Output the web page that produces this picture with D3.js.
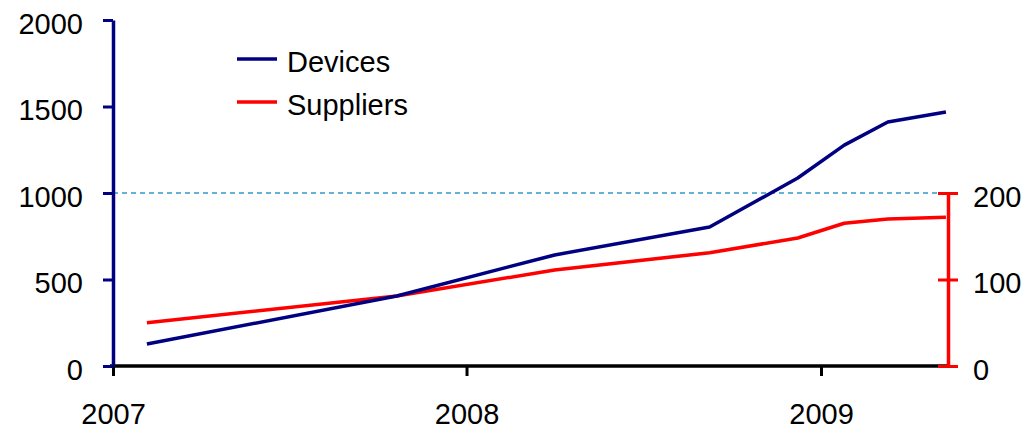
<!DOCTYPE html>
<html>
<head>
<meta charset="utf-8">
<script src="https://cdn.jsdelivr.net/npm/d3@7"></script>
<style>
  html, body { margin: 0; padding: 0; background: #fff; }
  svg { display: block; }
  text { font-family: "Liberation Sans", Arial, sans-serif; font-size: 29px; fill: #000; }
</style>
</head>
<body>
<svg id="chart" width="1035" height="429"></svg>
<script>
// ---- data ----
const dates = ["2007-02-05", "2007-10-21", "2008-04-01", "2008-09-08", "2008-12-08", "2009-01-25", "2009-03-11", "2009-05-10"];
const devices = [127, 405, 642, 803, 1087, 1277, 1410, 1468];
const suppliers = [50, 81, 111, 131, 148, 165, 170, 172];
const yearTicks = ["2007-01-01", "2008-01-01", "2009-01-01"];
const leftTicks = [0, 500, 1000, 1500, 2000];
const rightTicks = [0, 100, 200];
const refValue = 1000;
const seriesNames = ["Devices", "Suppliers"];

// ---- setup ----
const parse = d3.timeParse("%Y-%m-%d");
const svg = d3.select("#chart");
const x0 = 113, x1 = 948, yBottom = 366, yTop = 20;

const x = d3.scaleTime()
  .domain([parse("2007-01-01"), parse("2009-01-01")])
  .range([x0, 821]);
const yL = d3.scaleLinear().domain([0, 2000]).range([yBottom, yTop]);
const yR = d3.scaleLinear().domain([0, 200]).range([yBottom, yL(1000)]);

const navy = "#000080", red = "#FF0000";

// reference dashed line
svg.append("line")
  .attr("x1", x0).attr("x2", x1)
  .attr("y1", yL(refValue)).attr("y2", yL(refValue))
  .attr("stroke", "#3399CC").attr("stroke-width", 1.5)
  .attr("stroke-dasharray", "5,4");

// bottom axis
const xAxis = svg.append("g")
  .attr("transform", `translate(0,${yBottom})`)
  .call(d3.axisBottom(x)
    .tickValues(yearTicks.map(parse))
    .tickFormat(d3.timeFormat("%Y"))
    .tickSize(10).tickSizeOuter(0));
xAxis.select(".domain").attr("d", `M${x0 - 3},0H${x1}`).attr("stroke", "#000").attr("stroke-width", 3.5);
xAxis.selectAll(".tick line").attr("stroke", "#000").attr("stroke-width", 3);
xAxis.selectAll(".tick text").attr("y", 58).attr("dy", 0)
  .style("font-size", "29px").style("font-family", "Liberation Sans, Arial, sans-serif").attr("fill", "#000");

// left axis
const lAxis = svg.append("g")
  .attr("transform", `translate(${x0},0)`)
  .call(d3.axisLeft(yL).tickValues(leftTicks).tickFormat(d3.format("d")).tickSize(10).tickSizeOuter(0));
lAxis.select(".domain").attr("stroke", navy).attr("stroke-width", 3.5);
lAxis.selectAll(".tick line").attr("stroke", navy).attr("stroke-width", 3);
lAxis.selectAll(".tick text").attr("x", -30).attr("dy", 13)
  .style("font-size", "29px").style("font-family", "Liberation Sans, Arial, sans-serif").attr("fill", "#000");

// lines
const pts = (vals, scale) => vals.map((v, i) => [x(parse(dates[i])), scale(v)]);
const lineGen = d3.line();
svg.append("path").attr("d", lineGen(pts(suppliers, yR)))
  .attr("fill", "none").attr("stroke", red).attr("stroke-width", 3.5).attr("stroke-linejoin", "round");
svg.append("path").attr("d", lineGen(pts(devices, yL)))
  .attr("fill", "none").attr("stroke", navy).attr("stroke-width", 3.5).attr("stroke-linejoin", "round");

// right axis
const rAxis = svg.append("g")
  .attr("transform", `translate(${x1},0)`)
  .call(d3.axisRight(yR).tickValues(rightTicks).tickFormat(d3.format("d")).tickSize(10).tickSizeOuter(0));
rAxis.select(".domain").attr("stroke", red).attr("stroke-width", 3.5);
rAxis.selectAll(".tick line").attr("x1", -10).attr("x2", 10).attr("stroke", red).attr("stroke-width", 3);
rAxis.selectAll(".tick text").attr("x", 25).attr("dy", 13)
  .style("font-size", "29px").style("font-family", "Liberation Sans, Arial, sans-serif").attr("fill", "#000");

// legend
const legend = svg.append("g");
const legendY = [59, 102];
const legendColors = [navy, red];
seriesNames.forEach((name, i) => {
  legend.append("line")
    .attr("x1", 237).attr("x2", 277)
    .attr("y1", legendY[i]).attr("y2", legendY[i])
    .attr("stroke", legendColors[i]).attr("stroke-width", 3.5);
  legend.append("text")
    .attr("x", 287).attr("y", legendY[i] + 13)
    .text(name);
});
</script>
</body>
</html>
